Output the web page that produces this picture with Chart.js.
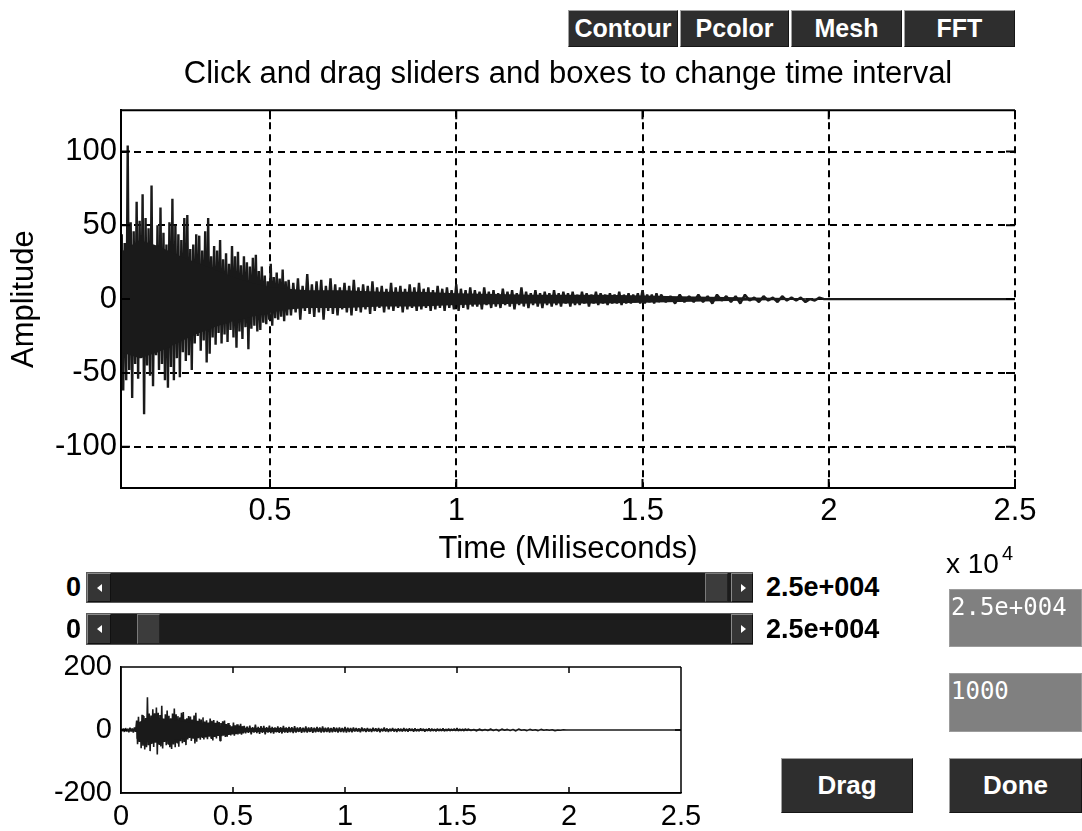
<!DOCTYPE html>
<html>
<head>
<meta charset="utf-8">
<script src="https://cdn.jsdelivr.net/npm/chart.js@4.4.1/dist/chart.umd.min.js"></script>
<style>
html,body{margin:0;padding:0;background:#fff;}
body{width:1082px;height:831px;position:relative;overflow:hidden;font-family:"Liberation Sans",Arial,Helvetica,sans-serif;}
canvas{position:absolute;}
.btn{position:absolute;box-sizing:border-box;background:#2e2e2e;color:#fff;
  font:bold 25px "Liberation Sans",Arial,sans-serif;display:flex;align-items:center;justify-content:center;
  border:1px solid;border-color:#a0a0a0 #161616 #161616 #a0a0a0;}
.slider{position:absolute;box-sizing:border-box;background:#1c1c1c;border:1px solid #5a5a5a;}
.arrow{position:absolute;top:0;bottom:0;box-sizing:border-box;background:#353535;border:1px solid;border-color:#8a8a8a #111 #111 #8a8a8a;}
.thumb{position:absolute;top:0;bottom:0;box-sizing:border-box;background:#3c3c3c;border:1px solid;border-color:#7a7a7a #222 #222 #7a7a7a;}
.tl{position:absolute;left:9px;top:50%;margin-top:-4px;width:0;height:0;border-top:4px solid transparent;border-bottom:4px solid transparent;border-right:5px solid #fff;}
.tr{position:absolute;left:9px;top:50%;margin-top:-4px;width:0;height:0;border-top:4px solid transparent;border-bottom:4px solid transparent;border-left:5px solid #fff;}
.blbl{position:absolute;font:bold 27px "Liberation Sans",Arial,sans-serif;color:#000;line-height:31px;}
.gbox{position:absolute;box-sizing:border-box;background:#808080;border:1px solid #9c9c9c;color:#fff;
  font:24px "DejaVu Sans Mono",monospace;line-height:28px;padding:3px 0 0 1px;}
.txt{position:absolute;color:#000;white-space:nowrap;}
</style>
</head>
<body>
<canvas id="main" width="1082" height="520" style="left:0;top:50px;width:1082px;height:520px;"></canvas>
<canvas id="small" width="720" height="191" style="left:0;top:640px;width:720px;height:191px;"></canvas>

<div class="btn" style="left:568px;top:10px;width:110px;height:37px;">Contour</div>
<div class="btn" style="left:680px;top:10px;width:109px;height:37px;">Pcolor</div>
<div class="btn" style="left:791px;top:10px;width:111px;height:37px;">Mesh</div>
<div class="btn" style="left:904px;top:10px;width:111px;height:37px;">FFT</div>

<div class="txt" style="left:946px;top:550px;font-size:28px;line-height:28px;">x 10</div>
<div class="txt" style="left:1002px;top:543px;font-size:20px;line-height:20px;">4</div>

<div class="blbl" style="left:60px;top:572px;width:21px;text-align:right;">0</div>
<div class="slider" style="left:86px;top:572px;width:667px;height:31px;">
  <div class="arrow" style="left:0;width:24px;"><i class="tl"></i></div>
  <div class="thumb" style="left:618px;width:23px;"></div>
  <div class="arrow" style="left:644px;width:22px;"><i class="tr"></i></div>
</div>
<div class="blbl" style="left:766px;top:572px;">2.5e+004</div>

<div class="blbl" style="left:60px;top:614px;width:21px;text-align:right;">0</div>
<div class="slider" style="left:86px;top:613px;width:667px;height:32px;">
  <div class="arrow" style="left:0;width:24px;"><i class="tl"></i></div>
  <div class="thumb" style="left:50px;width:23px;"></div>
  <div class="arrow" style="left:644px;width:22px;"><i class="tr"></i></div>
</div>
<div class="blbl" style="left:766px;top:614px;">2.5e+004</div>

<div class="gbox" style="left:949px;top:589px;width:133px;height:58px;">2.5e+004</div>
<div class="gbox" style="left:949px;top:673px;width:133px;height:59px;">1000</div>

<div class="btn" style="left:781px;top:758px;width:132px;height:55px;font-size:26px;">Drag</div>
<div class="btn" style="left:949px;top:758px;width:133px;height:55px;font-size:26px;">Done</div>

<script>
// ---- Data (time in units of 10^4 samples, amplitude) ----
// Signal is stored as alternating upper / lower excursions per short time step.
const segStart = [0, 0.07, 0.55, 1.55];
const segStep  = [0.01, 0.008, 0.0125, 0.025];

const preHi = [3, 5, 6, 4, 7, 5, 8];
const preLo = [-4, -6, -5, -7, -5, -8, -6];

const burstHi = [30, 42, 25, 48,
  44, 38, 104, 52, 46, 66, 53, 71, 55, 48,
  77, 30, 50, 62, 45, 37, 52, 68, 50, 44,
  40, 55, 57, 34, 37, 44, 43, 33, 46, 55,
  29, 36, 33, 40, 27, 31, 24, 36, 29, 32,
  23, 29, 25, 22, 28, 30, 19, 22, 16, 12,
  24, 15, 18, 14, 20, 12];
const burstLo = [-45, -38, -58, -50,
  -62, -55, -48, -67, -44, -54, -40, -78, -45, -52,
  -59, -38, -48, -44, -55, -60, -46, -55, -40, -53,
  -36, -42, -38, -48, -30, -25, -35, -28, -43, -37,
  -26, -31, -23, -30, -24, -29, -21, -26, -33, -22,
  -27, -19, -34, -20, -18, -22, -21, -16, -17, -14,
  -18, -13, -14, -12, -15, -11];

const decayHi = [13, 11, 14, 9, 17, 10, 12, 13, 9, 14,
  10, 8, 11, 9, 13, 8, 10, 9, 12, 8,
  9, 7, 11, 8, 9, 7, 10, 8, 11, 7,
  8, 6, 9, 7, 8, 6, 10, 7, 6, 8,
  6, 5, 8, 5, 6, 4, 7, 5, 6, 4,
  8, 5, 4, 6, 4, 5, 4, 6, 4, 5,
  4, 5, 3, 5, 4, 3, 5, 4, 3, 4,
  3, 5, 3, 4, 3, 4, 6, 3, 3, 4];
const decayLo = [-11, -9, -14, -8, -10, -12, -9, -14, -8, -10,
  -11, -7, -9, -11, -8, -9, -7, -10, -8, -6,
  -9, -7, -8, -6, -9, -7, -6, -8, -7, -6,
  -8, -7, -6, -8, -6, -7, -8, -6, -7, -5,
  -5, -7, -4, -6, -5, -6, -4, -5, -7, -4,
  -5, -6, -4, -5, -6, -4, -5, -4, -5, -3,
  -5, -4, -4, -3, -5, -3, -4, -3, -4, -3,
  -3, -4, -3, -3, -2, -3, -3, -2, -3, -2];

const tailHi = [3, 2, 3, 2, 3, 2, 3, 2, 2, 3, 1, 2, 1, 2, 1, 1, 0, 1, 0, 0];
const tailLo = [-2, -3, -2, -2, -2, -3, -1, -2, -3, -1, -2, -1, -2, -1, -1, -2, -1, 0, 0, 0];

const restTimes  = [2.1, 2.5];
const restValues = [0, 0];

// Dense core of the oscillation (solid band where samples overlap)
const coreTimes = [0, 0.069, 0.07, 0.10, 0.15, 0.20, 0.25, 0.30, 0.35, 0.40, 0.45, 0.50, 0.55, 0.60,
  0.70, 0.80, 0.90, 1.00, 1.20, 1.40, 1.60, 1.80, 1.95, 2.00];
const coreUpper = [3, 4, 22, 32, 40, 36, 30, 25, 20, 15, 11, 8, 7, 6, 6, 5, 5, 4, 3, 3, 2, 1, 0.5, 0];
const coreLower = [-3, -4, -28, -36, -40, -36, -30, -24, -19, -15, -12, -9, -7, -6, -6, -5, -5, -4, -3, -3, -2, -1, -0.5, 0];

// ---- Axis ticks ----
const mainXTicks  = [0.5, 1, 1.5, 2, 2.5];
const mainXLabels = ['0.5', '1', '1.5', '2', '2.5'];
const mainYTicks  = [-100, -50, 0, 50, 100];
const smallXTicks  = [0, 0.5, 1, 1.5, 2, 2.5];
const smallXLabels = ['0', '0.5', '1', '1.5', '2', '2.5'];
const smallYTicks  = [-200, 0, 200];

function buildPoints() {
  const pts = [{x: 0, y: 0}];
  const segs = [[preHi, preLo], [burstHi, burstLo], [decayHi, decayLo], [tailHi, tailLo]];
  segs.forEach(([hi, lo], k) => {
    hi.forEach((v, i) => {
      const t = segStart[k] + i * segStep[k];
      pts.push({x: t, y: v});
      pts.push({x: t + segStep[k] / 2, y: lo[i]});
    });
  });
  restTimes.forEach((t, i) => pts.push({x: t, y: restValues[i]}));
  return pts;
}
const signal = buildPoints();
const coreUp = coreTimes.map((t, i) => ({x: t, y: coreUpper[i]}));
const coreDn = coreTimes.map((t, i) => ({x: t, y: coreLower[i]}));

const FONT = '"Liberation Sans", Arial, Helvetica, sans-serif';
const fnt = (size, weight = 'normal') => ({family: FONT, size: size, weight: weight, lineHeight: 1.2});
Chart.defaults.color = '#000';
Chart.defaults.font.family = FONT;

const INK = '#1a1a1a';
function datasets(lineW) {
  return [
    {data: coreUp, borderWidth: 0, borderColor: INK, backgroundColor: INK, pointRadius: 0, tension: 0, fill: '+1'},
    {data: coreDn, borderWidth: 0, borderColor: INK, backgroundColor: INK, pointRadius: 0, tension: 0, fill: false},
    {data: signal, borderColor: INK, borderWidth: lineW, pointRadius: 0, tension: 0, fill: false, borderJoinStyle: 'bevel'}
  ];
}

const boxPlugin = {
  id: 'axesBox',
  afterDatasetsDraw(chart, args, o) {
    const {ctx, chartArea: a} = chart;
    const xs = chart.scales.x, ys = chart.scales.y;
    ctx.save();
    ctx.setLineDash([]);
    ctx.strokeStyle = '#000';
    ctx.lineWidth = o.width;
    ctx.beginPath();
    if (o.top)    { ctx.moveTo(a.left, a.top);    ctx.lineTo(a.right, a.top); }
    if (o.bottom) { ctx.moveTo(a.left, a.bottom); ctx.lineTo(a.right, a.bottom); }
    if (o.left)   { ctx.moveTo(a.left, a.top);    ctx.lineTo(a.left, a.bottom); }
    if (o.right)  { ctx.moveTo(a.right, a.top);   ctx.lineTo(a.right, a.bottom); }
    xs.ticks.forEach(t => {
      const px = xs.getPixelForValue(t.value);
      ctx.moveTo(px, a.bottom); ctx.lineTo(px, a.bottom - o.tick);
      ctx.moveTo(px, a.top);    ctx.lineTo(px, a.top + o.tick);
    });
    ys.ticks.forEach(t => {
      const py = ys.getPixelForValue(t.value);
      ctx.moveTo(a.left, py);  ctx.lineTo(a.left + o.tick, py);
      ctx.moveTo(a.right, py); ctx.lineTo(a.right - o.tick, py);
    });
    ctx.stroke();
    ctx.restore();
  }
};

// ---- Main plot ----
new Chart(document.getElementById('main'), {
  type: 'line',
  data: {datasets: datasets(2.4)},
  options: {
    responsive: false, animation: false, devicePixelRatio: 1, events: [],
    layout: {padding: {top: 0, left: 0, right: 67, bottom: 0}},
    plugins: {
      legend: {display: false}, tooltip: {enabled: false},
      title: {display: true, fullSize: false, color: '#000',
        text: 'Click and drag sliders and boxes to change time interval',
        font: fnt(31), padding: {top: 6, bottom: 17}},
      axesBox: {top: true, bottom: true, left: true, right: false, width: 2, tick: 9}
    },
    scales: {
      x: {
        type: 'linear', min: 0.1, max: 2.5,
        afterBuildTicks: s => { s.ticks = mainXTicks.map(v => ({value: v})); },
        afterFit: s => { s.height = 82; },
        ticks: {callback: v => mainXLabels[mainXTicks.indexOf(v)], font: fnt(31), color: '#000',
          padding: 5, maxRotation: 0, minRotation: 0, autoSkip: false},
        grid: {color: '#000', lineWidth: 2, drawTicks: false},
        border: {display: true, color: '#000', width: 2, dash: [7, 5]},
        title: {display: true, text: 'Time (Miliseconds)', font: fnt(31), color: '#000',
          padding: {top: 0, bottom: 2}}
      },
      y: {
        type: 'linear', min: -128, max: 128,
        afterBuildTicks: s => { s.ticks = mainYTicks.map(v => ({value: v})); },
        afterFit: s => { s.width = 121; },
        ticks: {callback: v => String(v), font: fnt(31), color: '#000', padding: 4, autoSkip: false},
        grid: {color: '#000', lineWidth: 2, drawTicks: false},
        border: {display: true, color: '#000', width: 2, dash: [7, 5]},
        title: {display: true, text: 'Amplitude', font: fnt(31), color: '#000',
          padding: {top: 6, bottom: 0}}
      }
    }
  },
  plugins: [boxPlugin]
});

// ---- Overview plot ----
new Chart(document.getElementById('small'), {
  type: 'line',
  data: {datasets: datasets(1.6)},
  options: {
    responsive: false, animation: false, devicePixelRatio: 1, events: [],
    layout: {padding: {top: 27, left: 0, right: 39, bottom: 0}},
    plugins: {
      legend: {display: false}, tooltip: {enabled: false}, title: {display: false},
      axesBox: {top: true, bottom: true, left: true, right: true, width: 1.5, tick: 6}
    },
    scales: {
      x: {
        type: 'linear', min: 0, max: 2.5,
        afterBuildTicks: s => { s.ticks = smallXTicks.map(v => ({value: v})); },
        afterFit: s => { s.height = 38; },
        ticks: {callback: v => smallXLabels[smallXTicks.indexOf(v)], font: fnt(29), color: '#000',
          padding: 7, maxRotation: 0, minRotation: 0, autoSkip: false},
        grid: {display: false, drawTicks: false},
        border: {display: true, color: '#000', width: 1.5}
      },
      y: {
        type: 'linear', min: -200, max: 200,
        afterBuildTicks: s => { s.ticks = smallYTicks.map(v => ({value: v})); },
        afterFit: s => { s.width = 121; },
        ticks: {callback: v => String(v), font: fnt(29), color: '#000', padding: 9, autoSkip: false},
        grid: {display: false, drawTicks: false},
        border: {display: true, color: '#000', width: 1.5}
      }
    }
  },
  plugins: [boxPlugin]
});
</script>
</body>
</html>
